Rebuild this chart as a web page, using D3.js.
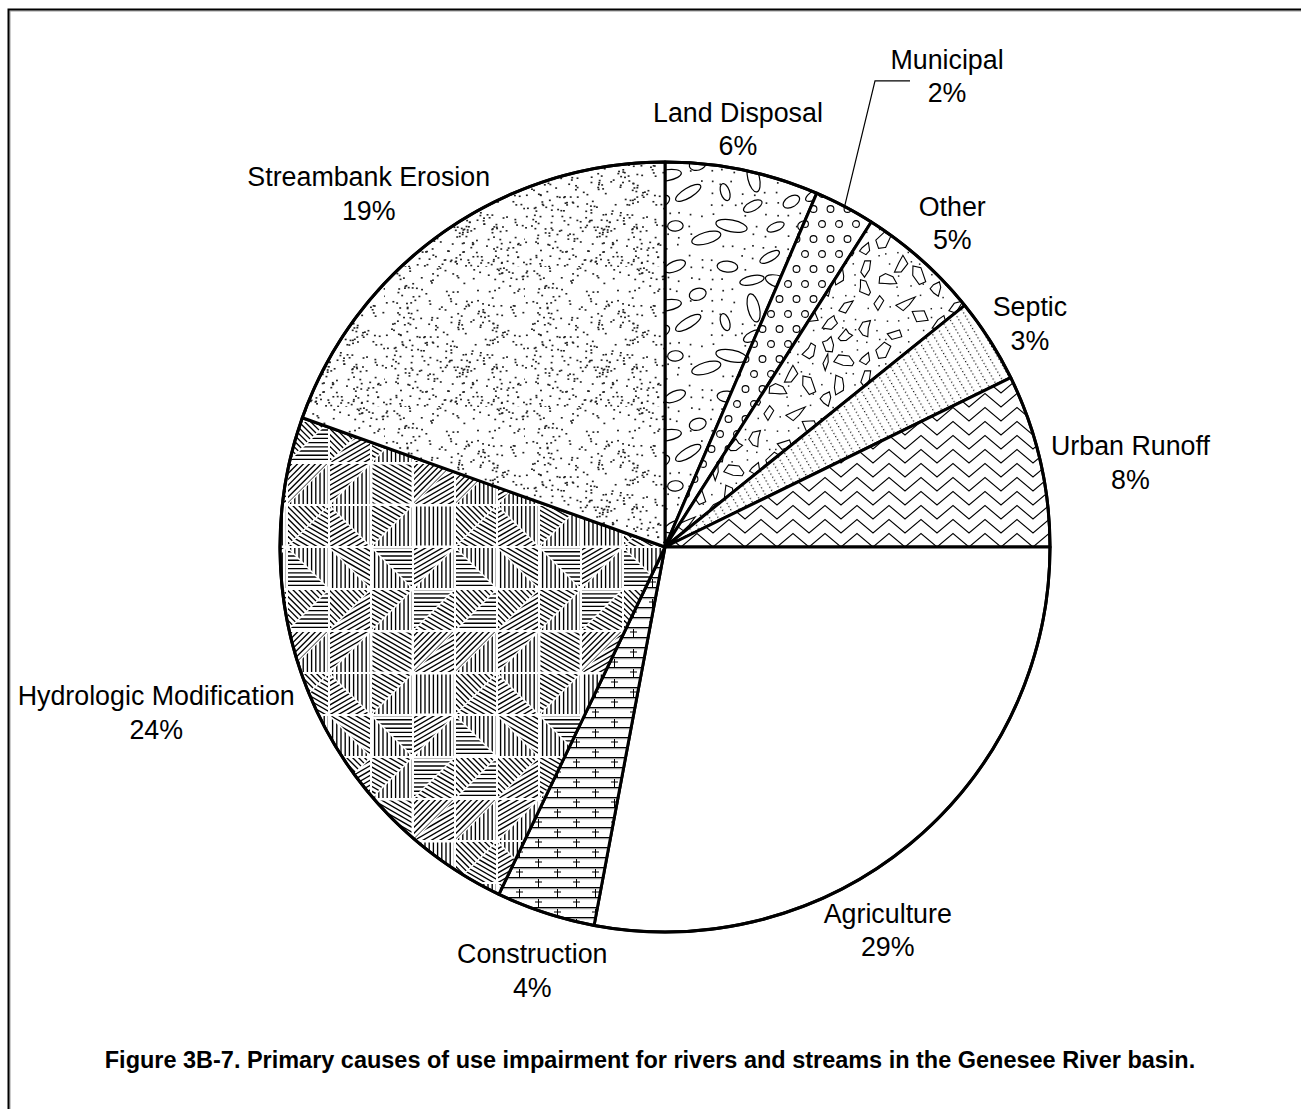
<!DOCTYPE html>
<html><head><meta charset="utf-8">
<script src="https://cdn.jsdelivr.net/npm/d3@7"></script>
<style>html,body{margin:0;padding:0;background:#fff;} svg{display:block}</style>
</head><body>
<svg id="chart" width="1301" height="1109"></svg>
<script>
// ---------------- DATA ----------------
const categories = ["Land Disposal","Municipal","Other","Septic","Urban Runoff","Agriculture","Construction","Hydrologic Modification","Streambank Erosion"];
const values = [6.45, 2.55, 5.2, 3.55, 7.25, 27.95, 4.15, 23.35, 19.55];
const percentLabels = ["6%","2%","5%","3%","8%","29%","4%","24%","19%"];
const captionText = "Figure 3B-7. Primary causes of use impairment for rivers and streams in the Genesee River basin.";

// ---------------- LAYOUT / STYLE ----------------
const patternIds = ["landDisposal","municipal","other","septic","urban","agri","construction","hydro","streambank"];
const labelAngleNudge = [-1.7, 3.1, -0.2, 1.0, 2.8, 9.5, -0.7, 4.4, -4.8];
const labelDistance = [424, 549, 433, 428, 473, 443, 444, 535, 461];
const W = 1301, H = 1109;
const cx = 665, cy = 547, R = 385;
const FONT = "'Liberation Sans', Arial, Helvetica, sans-serif";
const labelSize = 26.8, lineGap = 33.5;

const svg = d3.select("#chart");
svg.append("rect").attr("width", W).attr("height", H).attr("fill", "#fff");

// frame (only top/left visible in crop)
svg.append("rect").attr("x", 10).attr("y", 11).attr("width", W + 50).attr("height", H + 50)
  .attr("fill", "none").attr("stroke", "#9a9a9a").attr("stroke-width", 1);
svg.append("rect").attr("x", 8.5).attr("y", 9.5).attr("width", W + 50).attr("height", H + 50)
  .attr("fill", "none").attr("stroke", "#000").attr("stroke-width", 2);

function rng(seed){ return function(){ seed |= 0; seed = seed + 0x6D2B79F5 | 0; let t = Math.imul(seed ^ seed >>> 15, 1 | seed); t = t + Math.imul(t ^ t >>> 7, 61 | t) ^ t; return ((t ^ t >>> 14) >>> 0) / 4294967296; }; }

const defs = svg.append("defs");
function mkPattern(id, w, h, transform){
  const p = defs.append("pattern").attr("id", id).attr("patternUnits", "userSpaceOnUse")
    .attr("width", w).attr("height", h);
  if (transform) p.attr("patternTransform", transform);
  p.append("rect").attr("width", w).attr("height", h).attr("fill", "#fff");
  return p;
}
function wrapCopies(x, y, T, m){
  const out = [];
  for (const dx of [-T, 0, T]) for (const dy of [-T, 0, T]) {
    const X = x + dx, Y = y + dy;
    if (X > -m && X < T + m && Y > -m && Y < T + m) out.push([X, Y]);
  }
  return out;
}
function placePoints(r, T, n, minD, tries){
  const pts = [];
  for (let t = 0; t < tries && pts.length < n; t++) {
    const x = r() * T, y = r() * T;
    let ok = true;
    for (const p of pts) {
      let dx = Math.abs(p[0] - x), dy = Math.abs(p[1] - y);
      dx = Math.min(dx, T - dx); dy = Math.min(dy, T - dy);
      if (dx * dx + dy * dy < minD * minD) { ok = false; break; }
    }
    if (ok) pts.push([x, y]);
  }
  return pts;
}

// Land disposal: ovals + dots
(function(){
  const T = 130, p = mkPattern("landDisposal", T, T), r = rng(11);
  const pts = placePoints(r, T, 20, 27, 4000);
  const ells = [];
  pts.forEach(([x, y]) => {
    const big = r();
    const rx = big < 0.3 ? 5 + r() * 3 : 8 + r() * 8;
    const ry = big < 0.3 ? 4 + r() * 2 : 3.5 + r() * 3;
    const a = r() < 0.12 ? 55 + r() * 50 : -35 + r() * 65;
    ells.push([x, y, Math.max(rx, ry)]);
    wrapCopies(x, y, T, 20).forEach(([X, Y]) => {
      p.append("ellipse").attr("cx", X).attr("cy", Y).attr("rx", rx).attr("ry", ry)
        .attr("transform", `rotate(${a},${X},${Y})`)
        .attr("fill", "none").attr("stroke", "#000").attr("stroke-width", 1.2);
    });
  });
  for (let i = 0; i < T; i += 10.83) for (let j = 0; j < T; j += 10.83) {
    const x = i + r() * 5, y = j + r() * 5;
    let ok = true;
    ells.forEach(e => { let dx = Math.abs(e[0]-x), dy = Math.abs(e[1]-y); dx=Math.min(dx,T-dx); dy=Math.min(dy,T-dy); if (dx*dx+dy*dy < (e[2]+1)*(e[2]+1)) ok = false; });
    if (ok) p.append("rect").attr("x", x).attr("y", y).attr("width", 1.7).attr("height", 1.7).attr("fill", "#222");
  }
})();

// Municipal: small circles on staggered grid
(function(){
  const p = mkPattern("municipal", 17, 30);
  [[4, 7], [12.5, 22]].forEach(([x, y]) => {
    p.append("circle").attr("cx", x).attr("cy", y).attr("r", 3.4)
      .attr("fill", "none").attr("stroke", "#000").attr("stroke-width", 1.1);
  });
})();

// Other: confetti polygons + dots
(function(){
  const T = 110, p = mkPattern("other", T, T), r = rng(23);
  const pts = placePoints(r, T, 28, 19, 5000);
  pts.forEach(([x, y]) => {
    const n = 4 + Math.floor(r() * 3), base = r() * Math.PI * 2, vs = [];
    for (let k = 0; k < n; k++) {
      const ang = base + k * 2 * Math.PI / n + (r() - 0.5) * 0.6;
      const rad = (k % 2 === 1 && r() < 0.35) ? 3 + r() * 2 : 6 + r() * 4;
      vs.push([Math.cos(ang) * rad * 1.15, Math.sin(ang) * rad * 0.75]);
    }
    const rot = r() * 180;
    wrapCopies(x, y, T, 14).forEach(([X, Y]) => {
      p.append("path").attr("d", "M" + vs.map(v => (X + v[0]).toFixed(1) + "," + (Y + v[1]).toFixed(1)).join("L") + "Z")
        .attr("transform", `rotate(${rot},${X},${Y})`)
        .attr("fill", "none").attr("stroke", "#000").attr("stroke-width", 1.1);
    });
  });
  for (let i = 0; i < T; i += 11) for (let j = 0; j < T; j += 11) {
    const x = i + r() * 5, y = j + r() * 5;
    let ok = true;
    pts.forEach(e => { let dx = Math.abs(e[0]-x), dy = Math.abs(e[1]-y); dx=Math.min(dx,T-dx); dy=Math.min(dy,T-dy); if (dx*dx+dy*dy < 100) ok = false; });
    if (ok) p.append("rect").attr("x", x).attr("y", y).attr("width", 1.5).attr("height", 1.5).attr("fill", "#222");
  }
})();

// Septic: dotted slanted lines
(function(){
  const p = mkPattern("septic", 7.5, 3.6, "rotate(-30)");
  p.append("rect").attr("x", 0).attr("y", 0).attr("width", 1.2).attr("height", 1.2).attr("fill", "#111");
})();

// Urban runoff: zigzag
(function(){
  const p = mkPattern("urban", 32, 14);
  ["M-16,14 L0,0.5 L16,14 L32,0.5 L48,14", "M-16,28 L0,14.5 L16,28 L32,14.5 L48,28", "M-16,0 L0,-13.5 L16,0 L32,-13.5 L48,0"]
    .forEach(d => p.append("path").attr("d", d).attr("fill", "none").attr("stroke", "#000").attr("stroke-width", 1.1));
})();

// Agriculture: plain white
mkPattern("agri", 10, 10);

// Construction: bricks with plus ticks
(function(){
  const p = mkPattern("construction", 38, 20);
  [0, 10].forEach(y => {
    p.append("rect").attr("x", 0).attr("y", y).attr("width", 38).attr("height", 1).attr("fill", "#000");
    p.append("rect").attr("x", 0).attr("y", y + 1.2).attr("width", 38).attr("height", 1).attr("fill", "#888");
  });
  [[6, 0], [25, 10]].forEach(([x, y]) => {
    p.append("rect").attr("x", x).attr("y", y + 2).attr("width", 1).attr("height", 8).attr("fill", "#000");
    p.append("rect").attr("x", x - 3).attr("y", y + 4.5).attr("width", 7).attr("height", 1).attr("fill", "#000");
  });
})();

// Hydrologic modification: irregular patches of hatching in various orientations
(function(){
  const C = 42, N = 4, T = C * N, p = mkPattern("hydro", T, T), r = rng(5);
  const angles = [0, 90, 45, 135, 0, 90, 30, 150];
  let cid = 0;
  for (let i = 0; i < N; i++) for (let j = 0; j < N; j++) {
    const x0 = j * C, y0 = i * C;
    const u = r();
    let tris;
    if (u < 0.2) tris = [[[x0,y0],[x0+C,y0],[x0+C,y0+C],[x0,y0+C]]];
    else if (u < 0.6) tris = [[[x0,y0],[x0+C,y0],[x0,y0+C]], [[x0+C,y0],[x0+C,y0+C],[x0,y0+C]]];
    else tris = [[[x0,y0],[x0+C,y0],[x0+C,y0+C]], [[x0,y0],[x0+C,y0+C],[x0,y0+C]]];
    let last = -1;
    tris.forEach(tri => {
      const id = "hc" + (cid++);
      const gx = d3.mean(tri, v => v[0]), gy = d3.mean(tri, v => v[1]);
      const sh = tri.map(v => [gx + (v[0]-gx)*0.93, gy + (v[1]-gy)*0.93]);
      defs.append("clipPath").attr("id", id).attr("clipPathUnits", "userSpaceOnUse")
        .append("path").attr("d", "M" + sh.map(v => v.join(",")).join("L") + "Z");
      const g = p.append("g").attr("clip-path", `url(#${id})`);
      let ai;
      do { ai = Math.floor(r() * angles.length); } while (angles[ai] === last);
      last = angles[ai];
      const a = angles[ai] * Math.PI / 180;
      const dir = [Math.cos(a), Math.sin(a)], nor = [-Math.sin(a), Math.cos(a)];
      const mx = x0 + C/2, my = y0 + C/2;
      for (let s = -33; s <= 33; s += 4.2) {
        const ox = mx + nor[0]*s, oy = my + nor[1]*s;
        g.append("line").attr("x1", ox - dir[0]*40).attr("y1", oy - dir[1]*40)
          .attr("x2", ox + dir[0]*40).attr("y2", oy + dir[1]*40)
          .attr("stroke", "#000").attr("stroke-width", 1.35);
      }
    });
  }
})();

// Streambank erosion: random stipple
(function(){
  const T = 140, p = mkPattern("streambank", T, T), r = rng(7);
  for (let k = 0; k < 430; k++) {
    p.append("rect").attr("x", r() * T).attr("y", r() * T).attr("width", 1.9).attr("height", 1.6).attr("fill", "#222");
  }
})();

// ---------------- PIE ----------------
const data = categories.map((c, i) => ({ category: c, value: values[i], pct: percentLabels[i], pat: patternIds[i], i }));
const pie = d3.pie().sort(null).value(d => d.value).startAngle(0).endAngle(2 * Math.PI);
const arcs = pie(data);
const arc = d3.arc().innerRadius(0).outerRadius(R);
const g = svg.append("g").attr("transform", `translate(${cx},${cy})`);

g.selectAll("path.slice").data(arcs).join("path")
  .attr("class", "slice")
  .attr("d", arc)
  .attr("fill", d => `url(#${d.data.pat})`)
  .attr("stroke", "#000").attr("stroke-width", 3).attr("stroke-linejoin", "round");
g.append("circle").attr("r", R).attr("fill", "none").attr("stroke", "#000").attr("stroke-width", 3);

// ---------------- LABELS ----------------
const labelG = svg.append("g").attr("font-family", FONT).attr("font-size", labelSize).attr("fill", "#000").attr("text-anchor", "middle");
arcs.forEach(d => {
  const i = d.data.i;
  const mid = (d.startAngle + d.endAngle) / 2 + labelAngleNudge[i] * Math.PI / 180;
  const lx = cx + labelDistance[i] * Math.sin(mid);
  const ly = cy - labelDistance[i] * Math.cos(mid);
  const capMid = labelSize * 0.35;
  const t = labelG.append("text");
  t.append("tspan").attr("x", lx).attr("y", ly - lineGap / 2 + capMid).text(d.data.category);
  t.append("tspan").attr("x", lx).attr("y", ly + lineGap / 2 + capMid).text(d.data.pct);
  if (d.data.category === "Municipal") {
    const am = (d.startAngle + d.endAngle) / 2;
    const sx = cx + R * Math.sin(am), sy = cy - R * Math.cos(am);
    svg.append("path")
      .attr("d", `M${sx},${sy}L${lx - 72},${ly + 5}L${lx - 37},${ly + 5}`)
      .attr("fill", "none").attr("stroke", "#000").attr("stroke-width", 1.2);
  }
});

// ---------------- CAPTION ----------------
const cap = svg.append("text").attr("x", 650).attr("y", 1068).attr("text-anchor", "middle")
  .attr("font-family", FONT).attr("font-weight", "bold").attr("font-size", 20).attr("fill", "#000")
  .text(captionText);
const len = cap.node().getComputedTextLength();
cap.attr("font-size", (20 * 1091 / len).toFixed(2));
</script>
</body></html>
